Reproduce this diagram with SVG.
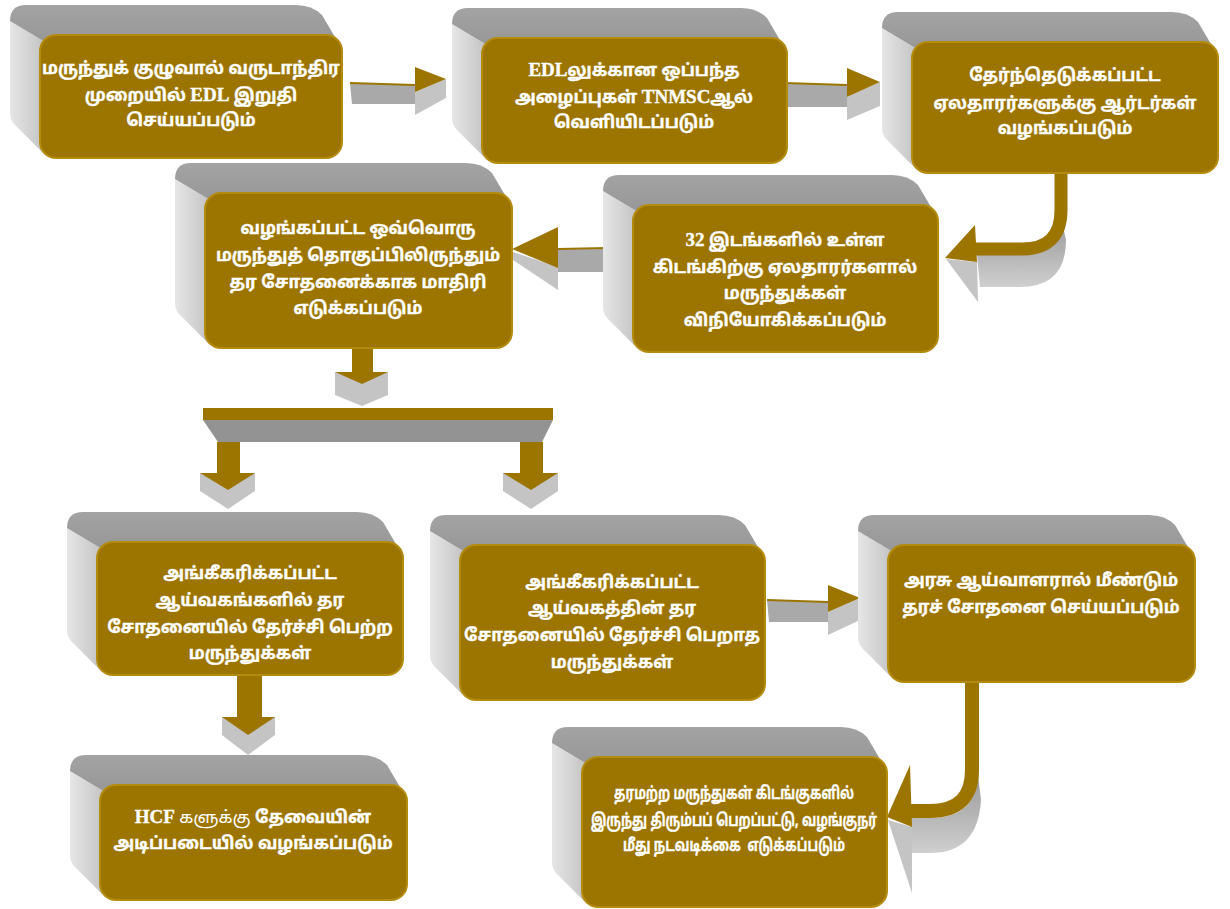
<svg xmlns="http://www.w3.org/2000/svg" width="1230" height="909" viewBox="0 0 1230 909">
<style>
.front{fill:#9c7500;stroke:#b38c0e;stroke-width:2}
.top{fill:url(#tg)}
.left{fill:url(#lg)}
.gold{fill:#9c7500}
.goldS{fill:none;stroke:#9c7500}
.gray{fill:#a9a9a9}
.lgray{fill:#c4c4c4}
.t{font-family:"Noto Sans Tamil","Lohit Tamil","Noto Sans",sans-serif;font-size:17px;font-weight:bold;fill:#ffffff;stroke:#ffffff;stroke-width:0.35;text-anchor:middle}
.lat{font-family:"Liberation Serif",serif;font-size:19px;font-weight:bold}
.reg{font-weight:normal;stroke-width:0}
</style>
<defs>
<linearGradient id="lg" x1="0" y1="0" x2="1" y2="0">
<stop offset="0" stop-color="#e6e6e6"/><stop offset="0.5" stop-color="#d2d2d2"/><stop offset="1" stop-color="#bcbcbc"/>
</linearGradient>
<linearGradient id="tg" x1="0" y1="0" x2="0" y2="1">
<stop offset="0" stop-color="#a3a3a3"/><stop offset="1" stop-color="#959595"/>
</linearGradient>
<linearGradient id="ug" x1="0" y1="0" x2="0" y2="1">
<stop offset="0" stop-color="#9a9a9a"/><stop offset="1" stop-color="#cfcfcf"/>
</linearGradient>
</defs>

<g id="connectors">
<!-- 1 -> 2 -->
<polygon class="gray" points="350,83 415,85 415,104 352,104"/>
<line x1="350" y1="83" x2="415" y2="85" stroke="#9c7500" stroke-width="2"/>
<polygon class="lgray" points="415,92 446,79 446,98 415,115"/>
<polygon class="gold" points="415,67 446,79 415,92"/>
<!-- 2 -> 3 -->
<polygon class="gray" points="785,83 847,85 847,107 787,107"/>
<line x1="785" y1="83" x2="847" y2="85" stroke="#9c7500" stroke-width="2"/>
<polygon class="lgray" points="847,97 880,82 880,106 847,120"/>
<polygon class="gold" points="847,68 880,82 847,97"/>
<!-- 3 -> 5 curved -->
<path fill="url(#ug)" d="M977,255 L1020,255 Q1058,255 1062,222 L1066,240 Q1066,287 1020,287 L980,287 Z"/>
<path class="goldS" stroke-width="13" d="M1061,173 V210 Q1061,249 1022,249 H972"/>
<polygon class="lgray" points="946,259 977,262 978,302"/>
<polygon class="gold" points="975,225 945,258 977,262"/>
<!-- 5 -> 4 -->
<polygon class="gray" points="558,249 607,248 605,272 558,272"/>
<line x1="558" y1="249" x2="607" y2="248" stroke="#9c7500" stroke-width="2"/>
<polygon class="lgray" points="513,252 558,267 558,290 513,260"/>
<polygon class="gold" points="558,227 512,249 558,268"/>
<!-- 4 -> bar -->
<rect class="gold" x="352" y="347" width="21" height="27"/>
<polygon class="lgray" points="335,372 388,372 388,395 362,406 335,395"/>
<polygon class="gold" points="335,372 388,372 362,384"/>
<!-- bar -->
<rect class="gold" x="203" y="408" width="350" height="12"/>
<polygon fill="#939393" points="203,420 553,420 542,442 218,442"/>
<!-- bar -> left -->
<rect class="gold" x="217" y="442" width="23" height="33"/>
<polygon class="lgray" points="200,473 255,473 255,491 228,509 200,491"/>
<polygon class="gold" points="200,473 255,473 228,490"/>
<!-- bar -> right -->
<rect class="gold" x="520" y="442" width="23" height="33"/>
<polygon class="lgray" points="503,473 558,473 558,491 531,509 503,491"/>
<polygon class="gold" points="503,473 558,473 531,490"/>
<!-- 6 -> 9 -->
<rect class="gold" x="237" y="674" width="25" height="45"/>
<polygon class="lgray" points="222,717 275,717 275,735 248,755 222,735"/>
<polygon class="gold" points="222,717 275,717 248,735"/>
<!-- 7 -> 8 -->
<polygon class="gray" points="767,600 828,602 828,622 769,622"/>
<line x1="767" y1="600" x2="828" y2="602" stroke="#9c7500" stroke-width="2"/>
<polygon class="lgray" points="828,612 860,598 860,620 828,635"/>
<polygon class="gold" points="828,585 860,598 828,612"/>
<!-- 8 -> 10 curved -->
<path fill="url(#ug)" d="M910,818 H930 Q976,818 978,775 L981,800 Q978,853 930,853 H912 Z"/>
<path class="goldS" stroke-width="14" d="M972,681 V770 Q972,811 930,811 H905"/>
<polygon class="lgray" points="888,820 912,827 912,893"/>
<polygon class="gold" points="910,765 887,817 912,827"/>
</g>

<g id="n1">
<path class="left" d="M10,21 L50,45 L45,155 L14,124 Q10,120 10,112 Z"/>
<path class="top" d="M10,21 Q10,5 26,5 H296 Q312,5 322,15 L342,49 L50,45 Z"/>
<rect class="front" x="40" y="35" width="302" height="123" rx="16"/>
<text class="t" x="191" y="74">மருந்துக் குழுவால் வருடாந்திர</text>
<text class="t" x="191" y="101">முறையில் <tspan class="lat">EDL</tspan> இறுதி</text>
<text class="t" x="191" y="126">செய்யப்படும்</text>
</g>
<g id="n2">
<path class="left" d="M452,24 L492,48 L487,160 L456,129 Q452,125 452,117 Z"/>
<path class="top" d="M452,24 Q452,8 468,8 H741 Q757,8 767,18 L787,52 L492,48 Z"/>
<rect class="front" x="482" y="38" width="305" height="125" rx="16"/>
<text class="t" x="634" y="76"><tspan class="lat">EDL</tspan>லுக்கான ஒப்பந்த</text>
<text class="t" x="634" y="103">அழைப்புகள் <tspan class="lat">TNMSC</tspan>ஆல்</text>
<text class="t" x="634" y="128">வெளியிடப்படும்</text>
</g>
<g id="n3">
<path class="left" d="M882,28 L922,52 L917,170 L886,139 Q882,135 882,127 Z"/>
<path class="top" d="M882,28 Q882,12 898,12 H1172 Q1188,12 1198,22 L1218,56 L922,52 Z"/>
<rect class="front" x="912" y="42" width="306" height="131" rx="16"/>
<text class="t" x="1065" y="81">தேர்ந்தெடுக்கப்பட்ட</text>
<text class="t" x="1065" y="109">ஏலதாரர்களுக்கு ஆர்டர்கள்</text>
<text class="t" x="1065" y="134">வழங்கப்படும்</text>
</g>
<g id="n4">
<path class="left" d="M175,179 L215,203 L210,345 L179,314 Q175,310 175,302 Z"/>
<path class="top" d="M175,179 Q175,163 191,163 H466 Q482,163 492,173 L512,207 L215,203 Z"/>
<rect class="front" x="205" y="193" width="307" height="155" rx="16"/>
<text class="t" x="358" y="234">வழங்கப்பட்ட ஒவ்வொரு</text>
<text class="t" x="358" y="261">மருந்துத் தொகுப்பிலிருந்தும்</text>
<text class="t" x="358" y="288">தர சோதனைக்காக மாதிரி</text>
<text class="t" x="358" y="314">எடுக்கப்படும்</text>
</g>
<g id="n5">
<path class="left" d="M603,191 L643,215 L638,349 L607,318 Q603,314 603,306 Z"/>
<path class="top" d="M603,191 Q603,175 619,175 H892 Q908,175 918,185 L938,219 L643,215 Z"/>
<rect class="front" x="633" y="205" width="305" height="147" rx="16"/>
<text class="t" x="785" y="246"><tspan class="lat">32</tspan> இடங்களில் உள்ள</text>
<text class="t" x="785" y="273">கிடங்கிற்கு ஏலதாரர்களால்</text>
<text class="t" x="785" y="299">மருந்துக்கள்</text>
<text class="t" x="785" y="326">விநியோகிக்கப்படும்</text>
</g>
<g id="n6">
<path class="left" d="M67,528 L107,552 L102,672 L71,641 Q67,637 67,629 Z"/>
<path class="top" d="M67,528 Q67,512 83,512 H357 Q373,512 383,522 L403,556 L107,552 Z"/>
<rect class="front" x="97" y="542" width="306" height="133" rx="16"/>
<text class="t" x="250" y="579">அங்கீகரிக்கப்பட்ட</text>
<text class="t" x="250" y="606">ஆய்வகங்களில் தர</text>
<text class="t" x="250" y="633">சோதனையில் தேர்ச்சி பெற்ற</text>
<text class="t" x="250" y="659">மருந்துக்கள்</text>
</g>
<g id="n7">
<path class="left" d="M430,531 L470,555 L465,697 L434,666 Q430,662 430,654 Z"/>
<path class="top" d="M430,531 Q430,515 446,515 H719 Q735,515 745,525 L765,559 L470,555 Z"/>
<rect class="front" x="460" y="545" width="305" height="155" rx="16"/>
<text class="t" x="612" y="588">அங்கீகரிக்கப்பட்ட</text>
<text class="t" x="612" y="614">ஆய்வகத்தின் தர</text>
<text class="t" x="612" y="641">சோதனையில் தேர்ச்சி பெறாத</text>
<text class="t" x="612" y="668">மருந்துக்கள்</text>
</g>
<g id="n8">
<path class="left" d="M858,531 L898,555 L893,679 L862,648 Q858,644 858,636 Z"/>
<path class="top" d="M858,531 Q858,515 874,515 H1149 Q1165,515 1175,525 L1195,559 L898,555 Z"/>
<rect class="front" x="888" y="545" width="307" height="137" rx="16"/>
<text class="t" x="1041" y="586">அரசு ஆய்வாளரால் மீண்டும்</text>
<text class="t" x="1041" y="613">தரச் சோதனை செய்யப்படும்</text>
</g>
<g id="n9">
<path class="left" d="M70,771 L110,795 L105,897 L74,866 Q70,862 70,854 Z"/>
<path class="top" d="M70,771 Q70,755 86,755 H361 Q377,755 387,765 L407,799 L110,795 Z"/>
<rect class="front" x="100" y="785" width="307" height="115" rx="16"/>
<text class="t" x="253" y="823"><tspan class="lat">HCF</tspan> <tspan class="reg">களுக்கு</tspan> தேவையின்</text>
<text class="t" x="253" y="849">அடிப்படையில் வழங்கப்படும்</text>
</g>
<g id="n10">
<path class="left" d="M552,743 L592,767 L587,904 L556,873 Q552,869 552,861 Z"/>
<path class="top" d="M552,743 Q552,727 568,727 H841 Q857,727 867,737 L887,771 L592,767 Z"/>
<rect class="front" x="582" y="757" width="305" height="150" rx="16"/>
<text class="t" x="734" y="799" textLength="240" lengthAdjust="spacingAndGlyphs">தரமற்ற மருந்துகள் கிடங்குகளில்</text>
<text class="t" x="734" y="826" textLength="286" lengthAdjust="spacingAndGlyphs">இருந்து திரும்பப் பெறப்பட்டு, வழங்குநர்</text>
<text class="t" x="734" y="851" textLength="222" lengthAdjust="spacingAndGlyphs">மீது நடவடிக்கை&#160; எடுக்கப்படும்</text>
</g>
</svg>
